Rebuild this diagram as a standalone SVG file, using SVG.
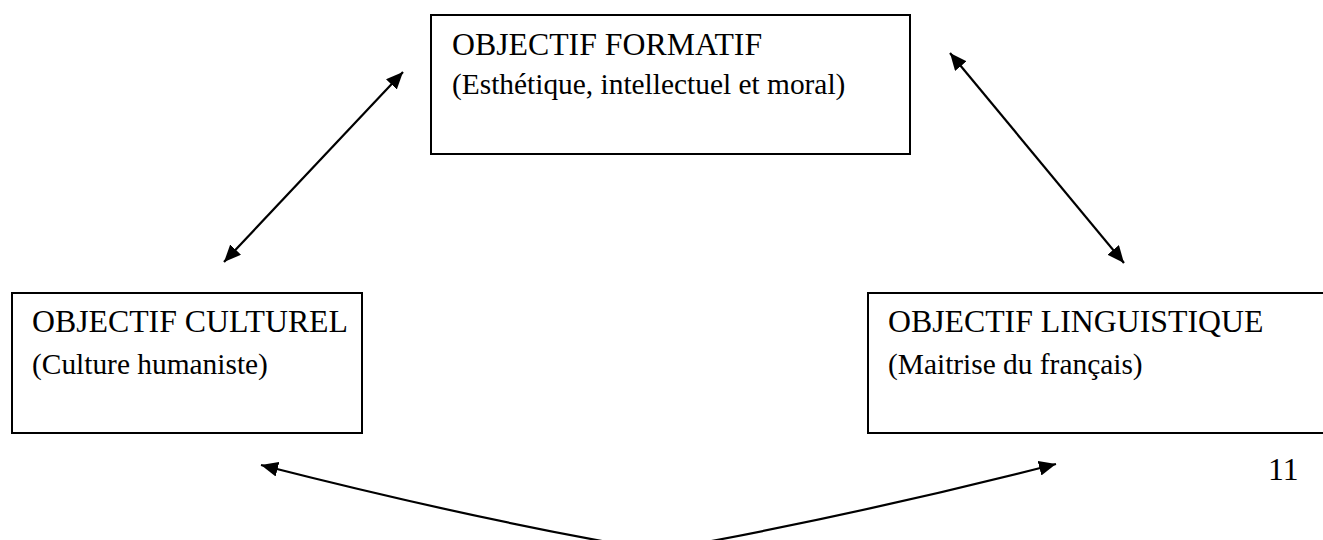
<svg xmlns="http://www.w3.org/2000/svg" width="1323" height="540" viewBox="0 0 1323 540">
  <style>
    .box { fill: #ffffff; stroke: #000000; stroke-width: 2; }
    .title { font-family: "Liberation Serif", "Times New Roman", serif; font-size: 31.8px; fill: #000000; }
    .sub { font-family: "Liberation Serif", "Times New Roman", serif; font-size: 29.4px; fill: #000000; }
    .conn { fill: none; stroke: #000000; stroke-width: 2.2; }
  </style>
  <defs>
    <marker id="arrow" markerUnits="userSpaceOnUse" markerWidth="17" markerHeight="15" refX="17" refY="7.5" orient="auto-start-reverse" viewBox="0 0 17 15">
      <path d="M0,0 L17,7.5 L0,15 z" fill="#000000"/>
    </marker>
  </defs>
  <rect width="1323" height="540" fill="#ffffff"/>

  <g id="node-formatif">
    <rect class="box" x="431" y="15" width="479" height="139"/>
    <text class="title" x="452" y="55">OBJECTIF FORMATIF</text>
    <text class="sub" x="452" y="94">(Esthétique, intellectuel et moral)</text>
  </g>

  <g id="node-culturel">
    <rect class="box" x="12" y="293" width="350" height="140"/>
    <text class="title" x="32" y="332">OBJECTIF CULTUREL</text>
    <text class="sub" x="32" y="374">(Culture humaniste)</text>
  </g>

  <g id="node-linguistique">
    <rect class="box" x="868" y="293" width="470" height="140"/>
    <text class="title" x="888" y="332">OBJECTIF LINGUISTIQUE</text>
    <text class="sub" x="888" y="374">(Maitrise du français)</text>
  </g>

  <g id="page-number">
    <text class="title" x="1268" y="480">11</text>
  </g>

  <g id="connectors">
    <line class="conn" x1="224" y1="262" x2="403" y2="72" marker-start="url(#arrow)" marker-end="url(#arrow)"/>
    <line class="conn" x1="950" y1="53" x2="1124" y2="263" marker-start="url(#arrow)" marker-end="url(#arrow)"/>
    <path class="conn" d="M261,465 Q479,520.6 658,551" stroke-width="2.6" marker-start="url(#arrow)"/>
    <path class="conn" d="M1056,464 Q857,515 658,551" stroke-width="2.6" marker-start="url(#arrow)"/>
  </g>
</svg>
